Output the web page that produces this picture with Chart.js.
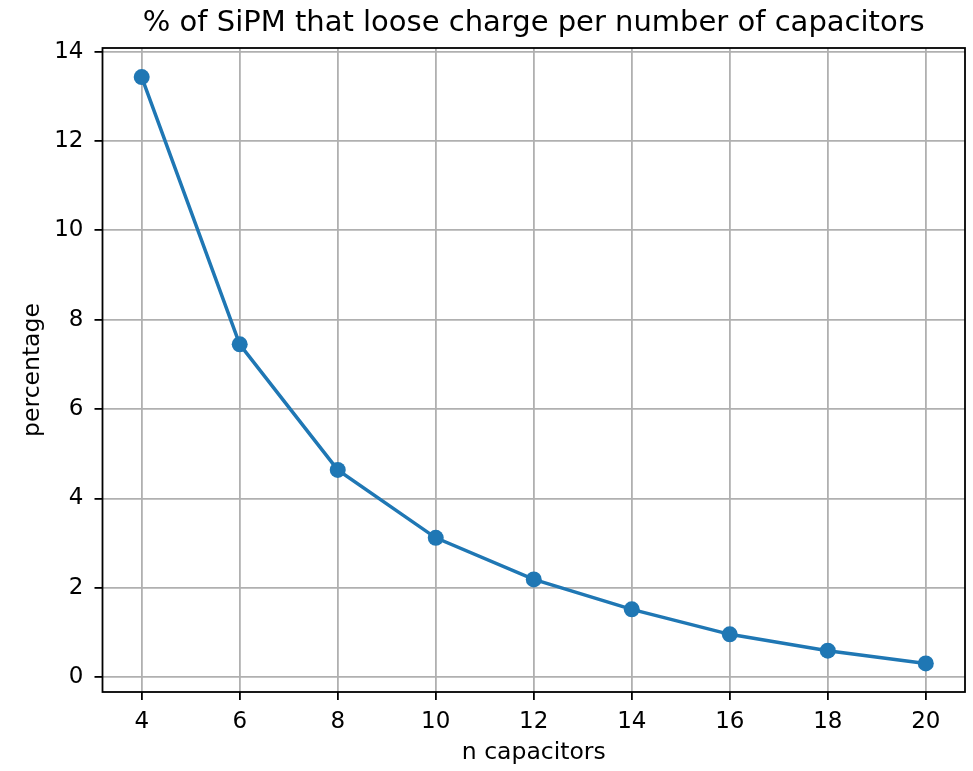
<!DOCTYPE html>
<html>
<head>
<meta charset="utf-8">
<title>SiPM charge loss</title>
<script src="https://cdn.jsdelivr.net/npm/chart.js@4.4.1/dist/chart.umd.min.js"></script>
<style>
  html, body { margin: 0; padding: 0; background: #fff; }
  #grafico { display: block; }
</style>
</head>
<body>
<canvas id="grafico" width="973" height="771"></canvas>
<script>
// datos: numero de capacitores y % de SiPM que pierden carga
const capacitores = [4, 6, 8, 10, 12, 14, 16, 18, 20];
const porcentajes = [13.43, 7.45, 4.64, 3.12, 2.19, 1.52, 0.96, 0.595, 0.31];

const ticksX = [4, 6, 8, 10, 12, 14, 16, 18, 20];
const ticksY = [0, 2, 4, 6, 8, 10, 12, 14];

const azul = "#1f77b4";
const fuente = "'DejaVu Sans', sans-serif";

// marco completo alrededor del area del grafico (los 4 lados)
const marco = {
  id: "marco",
  afterDraw(chart) {
    const { ctx, chartArea } = chart;
    ctx.save();
    ctx.strokeStyle = "#000";
    ctx.lineWidth = 1.8;
    ctx.strokeRect(chartArea.left, chartArea.top,
      chartArea.right - chartArea.left, chartArea.bottom - chartArea.top);
    ctx.restore();
  },
};

function crearGrafico() {
  const puntos = capacitores.map((c, i) => ({ x: c, y: porcentajes[i] }));
  const ctx = document.getElementById("grafico").getContext("2d");

  new Chart(ctx, {
    type: "scatter",
    data: {
      datasets: [
        {
          data: puntos,
          showLine: true,
          borderColor: azul,
          backgroundColor: azul,
          borderWidth: 3.5,
          pointRadius: 8,
          pointBorderWidth: 0,
          pointHoverRadius: 8,
        },
      ],
    },
    options: {
      responsive: false,
      animation: false,
      layout: { padding: { left: 0, right: 7.3, top: 0, bottom: 0 } },
      plugins: {
        legend: { display: false },
        tooltip: { enabled: false },
        title: {
          display: true,
          text: "% of SiPM that loose charge per number of capacitors",
          color: "#000",
          fullSize: false,
          font: { family: fuente, size: 29, weight: "normal", lineHeight: 1.2 },
          padding: { top: 6.4, bottom: 6.8 },
        },
      },
      scales: {
        x: {
          type: "linear",
          min: 3.2,
          max: 20.8,
          afterBuildTicks: (eje) => {
            eje.ticks = ticksX.map((v) => ({ value: v }));
          },
          afterFit: (eje) => {
            eje.height = 79;
          },
          border: { display: false },
          grid: {
            color: "#b0b0b0",
            lineWidth: 1.8,
            drawTicks: true,
            tickLength: 8,
            tickColor: "#000",
            tickWidth: 1.8,
          },
          ticks: {
            color: "#000",
            padding: 8,
            maxRotation: 0,
            font: { family: fuente, size: 23 },
          },
          title: {
            display: true,
            text: "n capacitors",
            color: "#000",
            font: { family: fuente, size: 23.5, lineHeight: 1.2 },
            padding: { top: 4, bottom: 4 },
          },
        },
        y: {
          type: "linear",
          min: -0.33,
          max: 14.08,
          afterBuildTicks: (eje) => {
            eje.ticks = ticksY.map((v) => ({ value: v }));
          },
          afterFit: (eje) => {
            eje.width = 102.5;
          },
          border: { display: false },
          grid: {
            color: "#b0b0b0",
            lineWidth: 1.8,
            drawTicks: true,
            tickLength: 8,
            tickColor: "#000",
            tickWidth: 1.8,
          },
          ticks: {
            color: "#000",
            padding: 11,
            font: { family: fuente, size: 23 },
          },
          title: {
            display: true,
            text: "percentage",
            color: "#000",
            font: { family: fuente, size: 23.5, lineHeight: 1.2 },
            padding: { top: 19, bottom: 4 },
          },
        },
      },
    },
    plugins: [marco],
  });
}

document.addEventListener("DOMContentLoaded", crearGrafico);
</script>
</body>
</html>
